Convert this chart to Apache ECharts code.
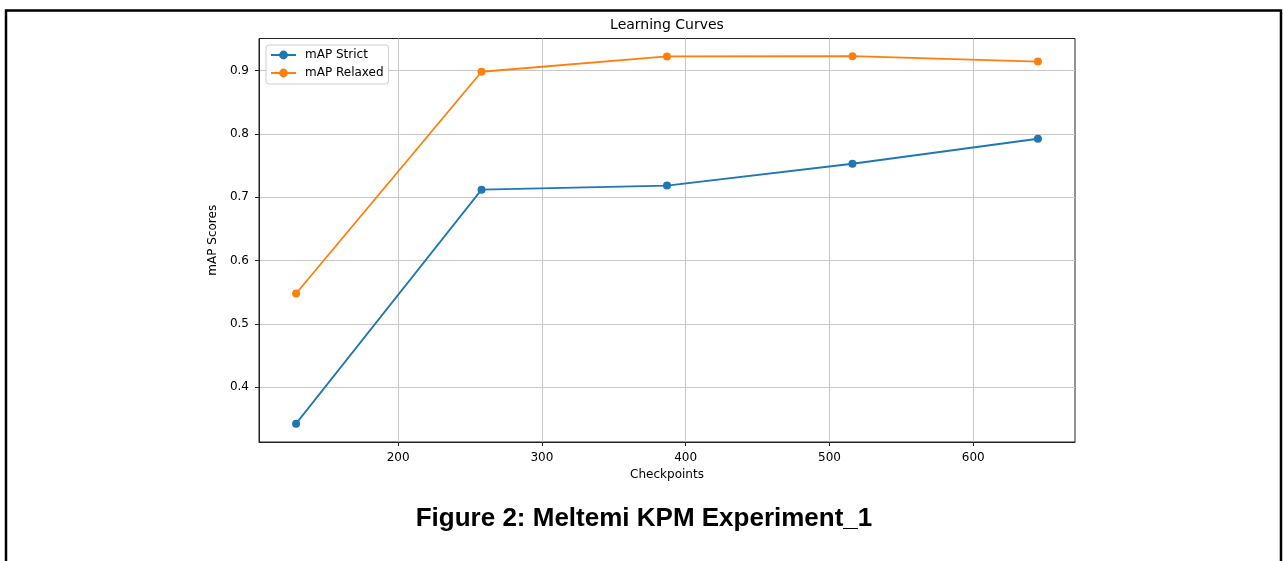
<!DOCTYPE html>
<html>
<head>
<meta charset="utf-8">
<script src="https://cdn.jsdelivr.net/npm/echarts@6/dist/echarts.min.js"></script>
<style>
html,body{margin:0;padding:0;background:#fff;}
#chart{width:1283px;height:561px;}
</style>
</head>
<body>
<div id="chart"></div>
<script>
var checkpoints = [129, 258, 387, 516, 645];
var mapStrict = [0.3423, 0.7118, 0.7183, 0.7527, 0.7922];
var mapRelaxed = [0.5478, 0.8980, 0.9222, 0.9226, 0.9140];
var xTicks = [200, 300, 400, 500, 600];
var yTicks = [0.4, 0.5, 0.6, 0.7, 0.8, 0.9];

var chart = echarts.init(document.getElementById("chart"));

function pairs(xs, ys){
	var out = [];
	for(var i = 0; i < xs.length; i++)
		out.push([xs[i], ys[i]]);
	return out;
}

var font = "DejaVu Sans";

var option = {
	animation: false,
	backgroundColor: '#fff',
	graphic: [
		{
			type: 'rect',
			shape: {x: 6, y: 10.5, width: 1275, height: 560},
			style: {fill: 'none', stroke: '#000', lineWidth: 2.5},
			silent: true
		},
		{
			type: 'text',
			x: 667, y: 25,
			style: {text: 'Learning Curves', font: '14px "DejaVu Sans"', fill: '#000', align: 'center', verticalAlign: 'middle'}
		},
		{
			type: 'text',
			x: 644, y: 519,
			style: {text: 'Figure 2: Meltemi KPM Experiment_1', font: 'bold 26px "Liberation Sans"', fill: '#000', align: 'center', verticalAlign: 'middle'}
		}
	],
	grid: {
		left: 259, top: 38.5, right: 208, bottom: 119,
		show: true, borderColor: '#222', borderWidth: 1,
		containLabel: false
	},
	legend: {
		orient: 'vertical',
		left: 266, top: 45,
		padding: [4, 5, 5, 4],
		itemWidth: 25, itemHeight: 11, itemGap: 6,
		backgroundColor: 'rgba(255,255,255,0.85)',
		borderColor: '#d0d0d0', borderWidth: 1, borderRadius: 3,
		textStyle: {fontFamily: font, fontSize: 12, color: '#000', padding: [0, 0, 0, 4]},
		data: ['mAP Strict', 'mAP Relaxed']
	},
	xAxis: {
		type: 'value',
		min: 103.2, max: 670.8,
		name: 'Checkpoints', nameLocation: 'middle', nameGap: 27,
		nameTextStyle: {fontFamily: font, fontSize: 12, color: '#000'},
		axisLine: {show: true, lineStyle: {color: '#222', width: 1}},
		axisTick: {show: true, length: 4, customValues: xTicks, lineStyle: {color: '#222'}},
		axisLabel: {customValues: xTicks, margin: 10, fontFamily: font, fontSize: 12, color: '#000'},
		splitLine: {show: true, lineStyle: {color: '#c8c8c8', width: 1}}
	},
	yAxis: {
		type: 'value',
		min: 0.3133, max: 0.9505,
		name: 'mAP Scores', nameLocation: 'middle', nameGap: 34, nameRotate: 90,
		nameTextStyle: {fontFamily: font, fontSize: 12, color: '#000'},
		axisLine: {show: true, lineStyle: {color: '#222', width: 1}},
		axisTick: {show: true, length: 4, customValues: yTicks, lineStyle: {color: '#222'}},
		axisLabel: {customValues: yTicks, margin: 10, fontFamily: font, fontSize: 12, color: '#000',
			formatter: function(v){ return v.toFixed(1); }},
		splitLine: {show: true, lineStyle: {color: '#c8c8c8', width: 1}}
	},
	series: [
		{
			name: 'mAP Strict',
			type: 'line',
			data: pairs(checkpoints, mapStrict),
			symbol: 'circle', symbolSize: 8,
			color: '#1f77b4',
			lineStyle: {width: 1.8, color: '#1f77b4'},
			itemStyle: {color: '#1f77b4'}
		},
		{
			name: 'mAP Relaxed',
			type: 'line',
			data: pairs(checkpoints, mapRelaxed),
			symbol: 'circle', symbolSize: 8,
			color: '#ff7f0e',
			lineStyle: {width: 1.8, color: '#ff7f0e'},
			itemStyle: {color: '#ff7f0e'}
		}
	]
};
chart.setOption(option);
</script>
</body>
</html>
